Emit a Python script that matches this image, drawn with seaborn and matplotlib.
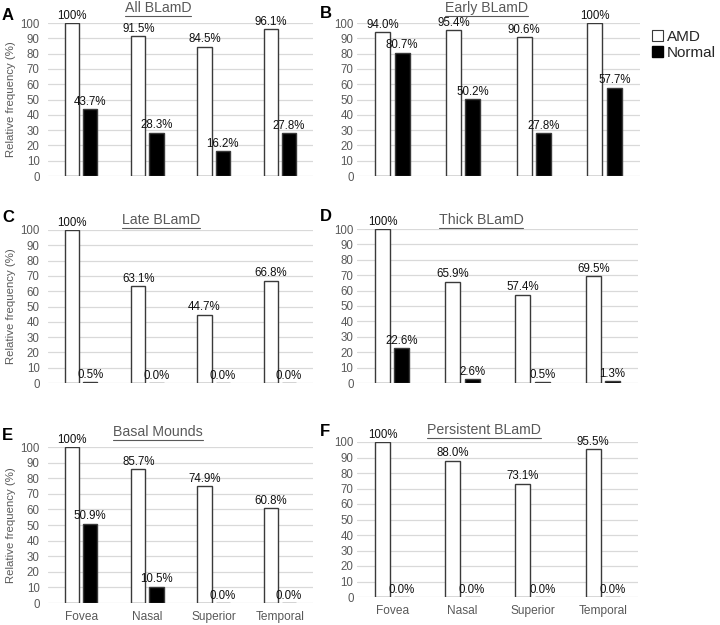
import pandas as pd
import seaborn as sns
import matplotlib.pyplot as plt
from matplotlib.patches import Patch
from matplotlib.lines import Line2D

# data
locations = ['Fovea', 'Nasal', 'Superior', 'Temporal']
groups = ['AMD', 'Normal']
panel_letters = ['A', 'B', 'C', 'D', 'E', 'F']
panel_titles = ['All BLamD', 'Early BLamD', 'Late BLamD', 'Thick BLamD',
                'Basal Mounds', 'Persistent BLamD']
amd_values = [
    [100, 91.5, 84.5, 96.1],
    [94.0, 95.4, 90.6, 100],
    [100, 63.1, 44.7, 66.8],
    [100, 65.9, 57.4, 69.5],
    [100, 85.7, 74.9, 60.8],
    [100, 88.0, 73.1, 95.5],
]
normal_values = [
    [43.7, 28.3, 16.2, 27.8],
    [80.7, 50.2, 27.8, 57.7],
    [0.5, 0.0, 0.0, 0.0],
    [22.6, 2.6, 0.5, 1.3],
    [50.9, 10.5, 0.0, 0.0],
    [0.0, 0.0, 0.0, 0.0],
]
yticks = list(range(0, 101, 10))

sns.set_theme(style='white')
plt.rcParams['font.family'] = ['Liberation Sans', 'DejaVu Sans']

W, H = 720, 625
fig = plt.figure(figsize=(7.2, 6.25), dpi=100)

# axes boxes in pixels: left, right, top (y=100), bottom (y=0)
boxes = [(48, 313, 23, 176), (357, 640, 23, 176),
         (48, 313, 230, 383), (357, 638, 229, 383),
         (48, 313, 447, 603), (357, 638, 442, 597)]
title_pos = [(158, 8), (486, 8), (161, 220), (481, 220), (158, 432), (484, 430)]
letter_pos = [(2, 16), (320, 13), (2, 218), (320, 217), (2, 435), (320, 432)]

grey = '#595959'

def fmt(v):
    return '100%' if v == 100 else f'{v:.1f}%'

for i in range(6):
    l, r, t, b = boxes[i]
    ax = fig.add_axes([l / W, 1 - b / H, (r - l) / W, (b - t) / H])
    df = pd.DataFrame({
        'location': locations * 2,
        'group': ['AMD'] * 4 + ['Normal'] * 4,
        'value': amd_values[i] + normal_values[i],
    })
    sns.barplot(data=df, x='location', y='value', hue='group',
                order=locations, hue_order=groups,
                palette={'AMD': 'white', 'Normal': 'black'},
                edgecolor='#3a3a3a', linewidth=1.0, width=0.55, gap=0.22,
                errorbar=None, legend=False, ax=ax)
    for cont in ax.containers:
        ax.bar_label(cont, labels=[fmt(bar.get_height()) for bar in cont],
                     fontsize=8.3, padding=1, color='#111111', clip_on=False)
    ax.set_ylim(0, 100)
    ax.set_xlim(-0.5, 3.5)
    ax.set_yticks(yticks)
    ax.grid(axis='y', color='#d9d9d9', linewidth=0.9)
    ax.set_axisbelow(True)
    for s in ax.spines.values():
        s.set_visible(False)
    ax.tick_params(axis='y', length=0, labelsize=8.3, labelcolor=grey,
                   pad=6 if i % 2 == 0 else 2.5)
    ax.set_xlabel('')
    if i >= 4:
        ax.tick_params(axis='x', length=0, labelsize=8.6, labelcolor=grey, pad=6)
    else:
        ax.set_xticklabels([])
        ax.tick_params(axis='x', length=0)
    if i % 2 == 0:
        ax.set_ylabel('Relative frequency (%)', fontsize=8.2, color=grey, labelpad=3)
    else:
        ax.set_ylabel('')
    # panel letter and title
    lx, ly = letter_pos[i]
    fig.text(lx / W, 1 - ly / H, panel_letters[i], fontsize=12, fontweight='bold',
             va='center', ha='left', color='black')
    tx, ty = title_pos[i]
    fig.text(tx / W, 1 - ty / H, panel_titles[i], fontsize=10.2, color=grey,
             va='center', ha='center')

# underline titles
renderer = fig.canvas.get_renderer()
for txt in list(fig.texts):
    if txt.get_text() in panel_titles:
        bb = txt.get_window_extent(renderer)
        yline = (bb.y0 - 0.5) / H
        fig.add_artist(Line2D([bb.x0 / W, bb.x1 / W], [yline, yline],
                              transform=fig.transFigure, color=grey, linewidth=0.8))

handles = [Patch(facecolor='white', edgecolor='#3a3a3a', linewidth=0.8),
           Patch(facecolor='black', edgecolor='black')]
fig.legend(handles, groups, loc='upper left', bbox_to_anchor=(652 / W, 1 - 30 / H),
           frameon=False, fontsize=11, handlelength=0.7, handleheight=0.7,
           handletextpad=0.25, labelspacing=0.1, labelcolor='#262626',
           borderpad=0, borderaxespad=0)

fig.savefig('out.png', dpi=100)
